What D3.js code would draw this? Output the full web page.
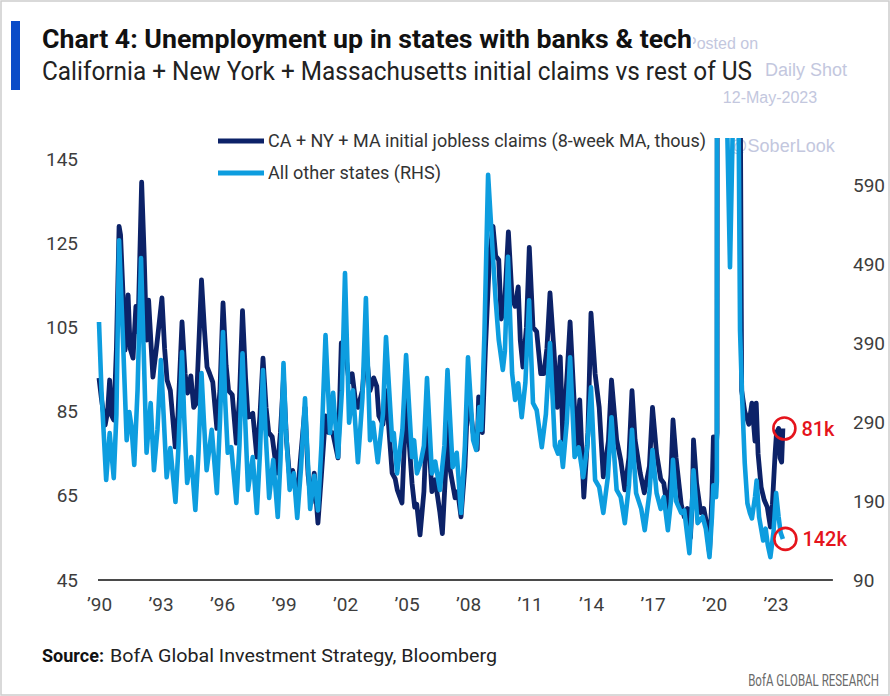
<!DOCTYPE html>
<html><head><meta charset="utf-8">
<script src="https://cdn.jsdelivr.net/npm/d3@7"></script>
<style>body{margin:0;background:#fff} svg{display:block}</style>
</head><body><div id="chart"></div>
<script>
// CA + NY + MA initial jobless claims, 8-week MA, thousands (left axis)
const caNyMa = [[1990.00,93],[1990.12,88],[1990.30,81.8],[1990.42,85],[1990.52,92.5],[1990.62,84],[1990.72,83],[1990.85,100],[1990.98,129],[1991.05,127],[1991.17,113],[1991.27,99.6],[1991.42,112.7],[1991.52,100],[1991.66,97.7],[1991.80,110],[1991.90,104],[1992.08,139.5],[1992.20,122.7],[1992.32,102],[1992.42,111.5],[1992.55,100],[1992.63,93.2],[1992.80,100],[1993.07,112],[1993.20,100],[1993.32,92.5],[1993.48,90],[1993.72,76.6],[1993.85,84],[1994.05,106.3],[1994.20,94],[1994.32,89.4],[1994.48,93.5],[1994.62,86],[1994.75,87],[1995.00,116.3],[1995.15,104],[1995.27,95.6],[1995.40,94],[1995.55,92],[1995.75,81],[1995.90,90],[1996.05,110.8],[1996.20,96],[1996.32,90],[1996.50,89],[1996.70,77.5],[1996.85,88],[1997.00,109],[1997.15,93],[1997.27,83.7],[1997.50,84.6],[1997.70,74.2],[1997.85,84],[1998.00,97.7],[1998.15,86],[1998.28,80],[1998.45,79],[1998.68,70.4],[1998.85,80],[1999.00,93],[1999.15,78],[1999.28,70.4],[1999.45,71],[1999.66,64],[1999.85,75],[2000.05,86],[2000.20,70],[2000.35,63.3],[2000.50,70.4],[2000.68,58.5],[2000.85,70],[2001.05,84],[2001.20,80],[2001.40,80],[2001.66,74],[2001.82,101.3],[2002.00,100],[2002.20,92],[2002.35,94],[2002.50,88],[2002.63,86],[2002.85,90],[2003.02,100],[2003.22,90],[2003.40,93],[2003.55,91],[2003.65,84],[2003.85,82],[2004.00,90],[2004.30,70.4],[2004.45,69],[2004.55,66.4],[2004.78,63.3],[2004.98,88],[2005.27,68],[2005.40,62.3],[2005.50,63],[2005.66,55.7],[2005.85,66],[2006.00,85],[2006.24,66],[2006.40,68.8],[2006.63,61],[2006.75,56],[2006.90,70],[2007.00,86],[2007.10,72],[2007.37,64.5],[2007.50,66],[2007.66,60],[2007.85,72],[2008.00,90],[2008.25,80],[2008.45,76],[2008.52,88.5],[2008.70,80],[2008.85,100],[2009.05,122],[2009.22,129],[2009.35,122],[2009.50,121],[2009.62,107],[2009.78,110],[2009.97,127.7],[2010.15,112],[2010.30,110],[2010.45,114.6],[2010.55,102],[2010.68,95.6],[2010.85,105],[2010.99,124],[2011.17,105],[2011.35,104],[2011.55,94],[2011.70,94],[2011.85,100],[2012.00,113.2],[2012.20,99],[2012.35,86],[2012.50,98],[2012.63,78.3],[2012.85,95],[2012.98,106.3],[2013.15,90],[2013.30,76.6],[2013.45,87.8],[2013.65,64.7],[2013.85,80],[2014.00,108.4],[2014.20,94],[2014.40,86],[2014.60,69.5],[2014.85,78],[2015.00,92.5],[2015.25,78.3],[2015.45,73.5],[2015.65,66.4],[2015.85,74],[2016.00,90],[2016.15,78.3],[2016.40,70.4],[2016.60,65.7],[2016.85,72],[2017.00,86],[2017.20,75],[2017.40,69],[2017.55,68],[2017.75,61],[2017.90,70],[2018.00,83],[2018.15,74],[2018.40,63],[2018.55,60],[2018.70,62],[2018.85,55],[2018.95,65],[2019.00,78.3],[2019.15,68],[2019.35,61],[2019.50,62],[2019.62,59],[2019.78,51.4],[2019.90,65],[2019.97,79],[2020.10,76],[2020.15,80],[2020.20,700],[2020.60,600],[2021.00,500],[2021.15,300],[2021.35,90],[2021.50,85],[2021.70,82],[2021.85,87],[2022.00,78],[2022.06,87],[2022.15,75],[2022.30,67],[2022.45,64],[2022.60,62.3],[2022.75,57.6],[2022.85,63],[2022.98,75],[2023.05,80],[2023.15,81],[2023.22,74],[2023.30,73],[2023.36,81]];

// All other states, thousands (right axis)
const otherStates = [[1990.00,416.6],[1990.12,330],[1990.35,216.6],[1990.52,276],[1990.72,219],[1990.85,300],[1990.98,520],[1991.17,394],[1991.35,267],[1991.48,302.6],[1991.58,285],[1991.72,235.6],[1991.88,330],[1992.05,497.6],[1992.18,380],[1992.32,251],[1992.52,314],[1992.68,229],[1992.85,280],[1993.02,368.5],[1993.15,300],[1993.30,220],[1993.48,257],[1993.73,188.7],[1993.88,260],[1994.05,378.6],[1994.15,300],[1994.30,212.8],[1994.50,245.7],[1994.70,178.6],[1994.85,250],[1995.00,352],[1995.12,290],[1995.25,229],[1995.50,280],[1995.75,200],[1995.90,290],[1996.05,404],[1996.15,320],[1996.28,251],[1996.45,258],[1996.70,187.5],[1996.85,260],[1997.00,377],[1997.12,300],[1997.27,204],[1997.50,245.7],[1997.70,174.8],[1997.85,250],[1998.00,355.8],[1998.12,280],[1998.30,193.8],[1998.50,242],[1998.72,169.7],[1998.85,240],[1999.00,364.7],[1999.12,280],[1999.30,204],[1999.50,225],[1999.67,168.5],[1999.85,230],[2000.05,320],[2000.15,260],[2000.30,180],[2000.50,222],[2000.68,178],[2000.85,260],[2001.05,400],[2001.27,276],[2001.42,327],[2001.66,245.7],[2001.85,330],[2002.00,478.6],[2002.20,289],[2002.39,330],[2002.63,239],[2002.85,320],[2003.02,447],[2003.22,267],[2003.37,289],[2003.60,239],[2003.85,300],[2004.00,397.6],[2004.30,267],[2004.38,276],[2004.54,225],[2004.80,280],[2004.98,374.8],[2005.27,245.7],[2005.37,267],[2005.51,225],[2005.70,240],[2005.85,260],[2006.00,345.7],[2006.24,225],[2006.40,240],[2006.63,204],[2006.85,260],[2007.00,355.8],[2007.25,233],[2007.45,251],[2007.66,174.8],[2007.85,260],[2008.00,372],[2008.25,267],[2008.40,254.6],[2008.55,309],[2008.65,280],[2008.80,400],[2008.98,603],[2009.20,507],[2009.35,444],[2009.50,394],[2009.70,356],[2009.80,380],[2009.95,499],[2010.15,352],[2010.30,318],[2010.45,339],[2010.62,296],[2010.80,340],[2010.98,444],[2011.17,314],[2011.35,305],[2011.60,258],[2011.80,300],[2012.00,390],[2012.24,260],[2012.39,250],[2012.50,265],[2012.63,233],[2012.82,290],[2012.98,372],[2013.20,245.7],[2013.40,258],[2013.62,220],[2013.82,260],[2014.00,334],[2014.20,216.6],[2014.40,207.7],[2014.60,174.8],[2014.82,220],[2015.00,296],[2015.25,204],[2015.45,195],[2015.65,162],[2015.85,210],[2016.00,280],[2016.20,200],[2016.45,180],[2016.62,153],[2016.85,200],[2017.00,254.6],[2017.20,200],[2017.40,180],[2017.55,195],[2017.75,153],[2017.90,190],[2018.00,242],[2018.15,190],[2018.40,175],[2018.55,178],[2018.80,124],[2018.92,180],[2019.00,229],[2019.20,162],[2019.45,170],[2019.60,155],[2019.78,119],[2019.90,170],[2019.97,210],[2020.10,195],[2020.14,215],[2020.18,3000],[2020.40,3000],[2020.54,800],[2020.78,486],[2021.02,800],[2021.10,2000],[2021.17,800],[2021.27,406],[2021.37,322],[2021.50,238],[2021.63,187],[2021.75,175],[2021.85,168],[2022.00,195],[2022.08,216],[2022.20,170],[2022.40,140],[2022.52,155],[2022.62,135],[2022.75,119],[2022.90,150],[2023.03,200],[2023.15,170],[2023.25,150],[2023.36,142]];

const leftTicks = [45, 65, 85, 105, 125, 145];
const rightTicks = [90, 190, 290, 390, 490, 590];
const yearTicks = [1990, 1993, 1996, 1999, 2002, 2005, 2008, 2011, 2014, 2017, 2020, 2023];
const yearLabels = ["\u201990","\u201993","\u201996","\u201999","\u201902","\u201905","\u201908","\u201911","\u201914","\u201917","\u201920","\u201923"];
const legendLabels = ["CA + NY + MA initial jobless claims (8-week MA, thous)", "All other states (RHS)"];
const annotationLabels = ["81k", "142k"];
const titleText = "Chart 4: Unemployment up in states with banks & tech";
const subtitleText = "California + New York + Massachusetts initial claims vs rest of US";
const watermark = ["Posted on", "Daily Shot", "12-May-2023", "@SoberLook"];

const W = 890, H = 696;
const DARK = "#0c2268", LIGHT = "#0d9ddf", RED = "#e5141c";
const FONT = "Roboto, 'Liberation Sans', Arial, sans-serif";

const svg = d3.select("#chart").append("svg").attr("width", W).attr("height", H)
  .style("font-family", FONT);
svg.append("rect").attr("width", W).attr("height", H).attr("fill", "#fff");
svg.append("rect").attr("x", 1).attr("y", 1).attr("width", W - 2).attr("height", H - 2)
  .attr("fill", "none").attr("stroke", "#cdcdcd").attr("stroke-width", 1.5);

// watermark (drawn first, partly hidden under the title)
const wm = svg.append("g").attr("fill", "#c3c7de").attr("font-family", "'Liberation Sans', Arial, sans-serif");
wm.append("text").attr("x", 686).attr("y", 49).attr("font-size", 16).text(watermark[0]);
wm.append("text").attr("x", 765).attr("y", 76).attr("font-size", 18).text(watermark[1]);
wm.append("text").attr("x", 770).attr("y", 103).attr("font-size", 16).attr("text-anchor", "middle").text(watermark[2]);
wm.append("text").attr("x", 782).attr("y", 152).attr("font-size", 18).attr("text-anchor", "middle").text(watermark[3]);

// title block
svg.append("rect").attr("x", 11).attr("y", 21).attr("width", 9).attr("height", 69).attr("fill", "#0a4cc8");
svg.append("rect").attr("x", 40).attr("y", 24).attr("width", 653).attr("height", 30).attr("fill", "#fff");
svg.append("text").attr("x", 42).attr("y", 48).attr("font-size", 26).attr("font-weight", "bold")
  .attr("fill", "#111").attr("textLength", 650).attr("lengthAdjust", "spacingAndGlyphs").text(titleText);
svg.append("text").attr("x", 42).attr("y", 80).attr("font-size", 25)
  .attr("fill", "#222").attr("textLength", 710).attr("lengthAdjust", "spacingAndGlyphs").text(subtitleText);

// scales
const x = d3.scaleLinear().domain([1990, 2026]).range([99, 837]);
const yL = d3.scaleLinear().domain([45, 145]).range([580, 159]);
const yR = d3.scaleLinear().domain([90, 590]).range([580, 185]);

// axes
const tickColor = "#3d3d3d";
const gl = svg.append("g").attr("transform", "translate(78,0)")
  .call(d3.axisLeft(yL).tickValues(leftTicks).tickSize(0).tickPadding(0));
const gr = svg.append("g").attr("transform", "translate(853,0)")
  .call(d3.axisRight(yR).tickValues(rightTicks).tickSize(0).tickPadding(0));
const gb = svg.append("g").attr("transform", "translate(0,580)")
  .call(d3.axisBottom(x).tickValues(yearTicks).tickFormat((d, i) => yearLabels[i]).tickSize(0).tickPadding(18));
[gl, gr, gb].forEach(g => {
  g.select(".domain").remove();
  g.selectAll("text").attr("font-size", 19).attr("font-family", FONT).attr("fill", tickColor);
});
svg.append("line").attr("x1", x(1990) - 1).attr("x2", x(2025.8)).attr("y1", yL(45)).attr("y2", yL(45))
  .attr("stroke", "#4a4a4a").attr("stroke-width", 1.8);

// clip
svg.append("clipPath").attr("id", "plotclip").append("rect")
  .attr("x", 0).attr("y", 138).attr("width", W).attr("height", 460);

const plot = svg.append("g").attr("clip-path", "url(#plotclip)");
const lineL = d3.line().x(d => x(d[0])).y(d => yL(d[1]));
const lineR = d3.line().x(d => x(d[0])).y(d => yR(d[1]));
plot.append("path").datum(caNyMa).attr("d", lineL).attr("fill", "none")
  .attr("stroke", DARK).attr("stroke-width", 4.8).attr("stroke-linejoin", "round");
plot.append("path").datum(otherStates).attr("d", lineR).attr("fill", "none")
  .attr("stroke", LIGHT).attr("stroke-width", 4.6).attr("stroke-linejoin", "round");

// legend
const leg = svg.append("g");
[[DARK, 141, 438], [LIGHT, 173, 173]].forEach((c, i) => {
  leg.append("line").attr("x1", 218).attr("x2", 264).attr("y1", c[1]).attr("y2", c[1])
    .attr("stroke", c[0]).attr("stroke-width", 5);
  leg.append("text").attr("x", 268).attr("y", c[1]).attr("dy", "0.35em").attr("font-size", 18)
    .attr("fill", "#333").attr("textLength", c[2]).attr("lengthAdjust", "spacingAndGlyphs").text(legendLabels[i]);
});

// annotations
const lastCa = caNyMa[caNyMa.length - 1];
const lastOther = otherStates[otherStates.length - 1];
const annPts = [[x(lastCa[0]) + 1.5, yL(lastCa[1])], [x(lastOther[0]) + 2.5, yR(lastOther[1])]];
annPts.forEach((p, i) => {
  svg.append("circle").attr("cx", p[0]).attr("cy", p[1]).attr("r", 11)
    .attr("fill", "none").attr("stroke", RED).attr("stroke-width", 2.6);
  svg.append("text").attr("x", p[0] + 17).attr("y", p[1]).attr("dy", "0.36em")
    .attr("font-size", 20).attr("font-weight", 500).attr("fill", RED).text(annotationLabels[i]);
});

// footer
svg.append("text").attr("x", 42).attr("y", 662).attr("font-size", 18).attr("font-weight", "bold")
  .attr("fill", "#111").attr("textLength", 62).attr("lengthAdjust", "spacingAndGlyphs").text("Source:");
svg.append("text").attr("x", 110).attr("y", 662).attr("font-size", 18).attr("fill", "#222")
  .attr("textLength", 387).attr("lengthAdjust", "spacingAndGlyphs").text("BofA Global Investment Strategy, Bloomberg");
svg.append("text").attr("transform", "translate(879,686) scale(0.72,1)").attr("text-anchor", "end")
  .attr("font-size", 16).attr("fill", "#6a6a6a").text("BofA GLOBAL RESEARCH");
</script>
</body></html>
